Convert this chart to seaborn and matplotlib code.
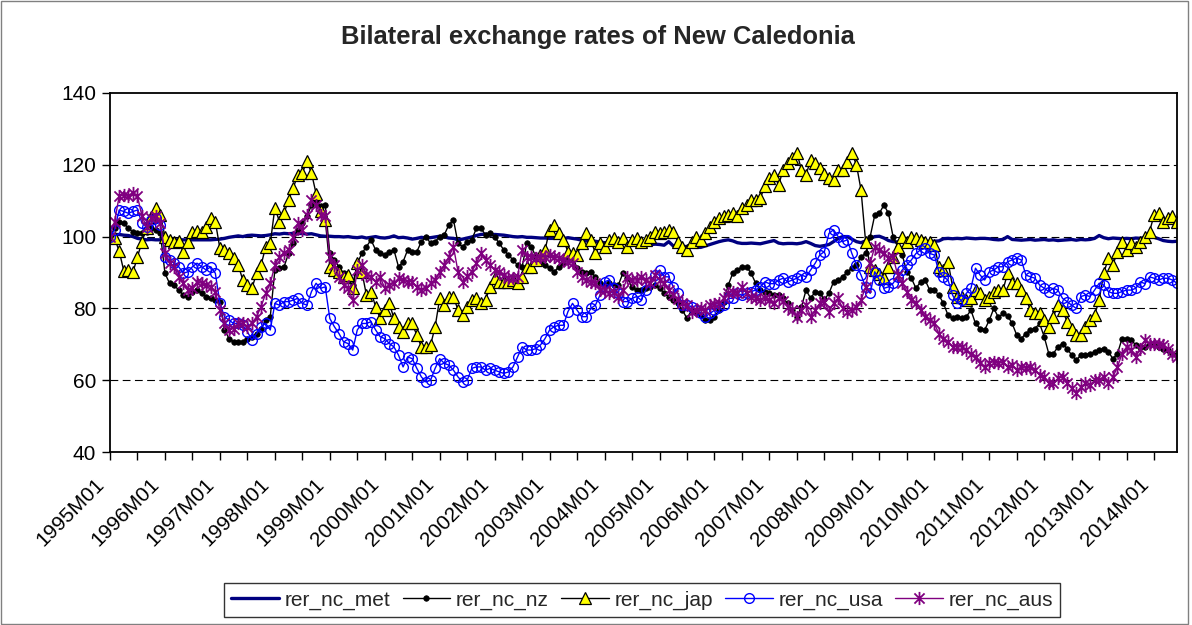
import numpy as np
import pandas as pd
import seaborn as sns
import matplotlib.pyplot as plt
import matplotlib.transforms as mtransforms
from matplotlib.path import Path
from matplotlib.patches import Rectangle

# monthly categories 1995M01 .. 2014M06
months = [f"{y}M{m:02d}" for y in range(1995, 2015) for m in range(1, 13)][:234]

met = [
    100.0, 100.5, 100.6, 100.4, 100.3, 100.0, 99.5, 99.3, 99.1, 99.2, 99.1, 99.1,  # 1995
    99.2, 99.2, 99.1, 99.1, 99.1, 99.1, 99.1, 99.1, 99.1, 99.1, 99.1, 99.2,  # 1996
    99.3, 99.5, 99.8, 100.0, 100.2, 100.0, 100.3, 100.4, 100.3, 100.2, 100.3, 100.5,  # 1997
    100.8, 100.7, 100.9, 100.8, 100.9, 100.8, 100.9, 100.7, 100.8, 100.5, 100.2, 100.1,  # 1998
    100.1, 100.0, 100.0, 99.9, 100.0, 99.8, 99.7, 99.9, 99.6, 99.8, 100.0, 99.7,  # 1999
    99.6, 99.8, 100.2, 99.7, 99.8, 99.6, 99.3, 99.5, 99.8, 99.6, 99.7, 99.9,  # 2000
    100.1, 99.9, 99.6, 99.5, 99.1, 99.3, 99.6, 99.9, 100.3, 100.6, 100.7, 100.4,  # 2001
    100.6, 100.5, 100.4, 100.2, 100.0, 99.9, 100.0, 99.8, 99.8, 99.7, 99.6, 99.6,  # 2002
    99.5, 99.5, 99.6, 99.4, 99.7, 99.5, 99.3, 99.0, 98.8, 98.6, 98.7, 98.5,  # 2003
    98.3, 98.2, 98.3, 98.2, 98.3, 98.2, 98.0, 97.9, 98.0, 97.8, 97.7, 97.9,  # 2004
    97.8, 97.6, 98.6, 97.4, 97.3, 97.3, 97.2, 97.3, 97.0, 97.0, 97.4, 97.8,  # 2005
    98.2, 98.6, 98.9, 99.1, 98.8, 98.3, 98.1, 98.1, 98.2, 98.1, 98.0, 98.3,  # 2006
    98.6, 98.9, 98.2, 98.0, 98.1, 98.1, 98.0, 98.2, 98.6, 98.1, 97.5, 97.3,  # 2007
    97.5, 97.8, 98.6, 99.5, 100.0, 100.0, 99.3, 98.6, 98.3, 98.8, 99.5, 100.0,  # 2008
    100.1, 99.6, 98.9, 98.6, 98.5, 98.6, 98.5, 98.7, 98.6, 98.5, 98.7, 98.6,  # 2009
    98.7, 98.8, 99.4, 99.5, 99.4, 99.5, 99.4, 99.6, 99.5, 99.4, 99.5, 99.5,  # 2010
    99.4, 99.2, 99.1, 99.2, 100.0, 99.2, 99.1, 99.0, 99.1, 99.2, 99.0, 99.1,  # 2011
    99.2, 99.0, 99.1, 98.9, 99.0, 99.1, 99.2, 99.0, 99.2, 99.1, 99.2, 99.5,  # 2012
    100.3, 99.7, 99.4, 99.6, 99.5, 99.4, 99.5, 99.4, 99.6, 99.5, 99.8, 100.0,  # 2013
    99.8, 99.4, 98.9, 98.7, 98.6, 98.7,  # 2014
]

nz = [
    100.0, 102.3, 104.2, 103.7, 102.3, 101.4, 100.9, 100.9, 101.4, 102.3, 101.9, 100.9,
    89.8, 87.0, 86.5, 85.1, 83.7, 83.3, 84.7, 85.1, 84.2, 83.3, 82.8, 82.3,
    81.9, 74.0, 71.6, 70.7, 70.7, 70.7, 71.6, 72.1, 73.0, 74.4, 76.7, 77.7,
    90.7, 91.2, 91.6, 95.3, 98.1, 101.9, 103.7, 105.6, 108.8, 109.8, 108.4, 108.8,
    95.3, 93.5, 91.6, 89.8, 87.9, 86.5, 92.6, 95.3, 97.2, 99.1, 96.3, 95.3,
    94.9, 95.8, 96.3, 91.6, 93.0, 96.3, 95.8, 95.8, 98.6, 100.0, 98.1, 98.6,
    100.0, 100.5, 103.3, 104.7, 98.1, 97.2, 98.6, 99.1, 102.3, 102.3, 100.5, 100.9,
    100.0, 98.1, 96.3, 94.9, 93.5, 92.1, 91.6, 98.1, 97.2, 94.4, 93.0, 92.1,
    91.2, 90.2, 91.6, 92.6, 94.0, 94.4, 91.2, 90.2, 89.8, 90.2, 88.8, 87.0,
    86.5, 87.0, 86.5, 86.5, 89.8, 88.4, 86.0, 85.1, 85.1, 85.6, 86.0, 86.5,
    85.6, 84.2, 83.3, 82.3, 81.4, 79.5, 77.2, 79.5, 79.0, 78.1, 76.7, 76.7,
    77.7, 79.5, 81.9, 86.5, 89.8, 90.7, 91.6, 91.6, 89.8, 87.0, 85.1, 84.7,
    84.2, 83.7, 83.7, 82.8, 81.4, 79.5, 77.7, 80.5, 85.1, 82.8, 84.7, 84.2,
    82.5, 84.2, 87.4, 87.9, 88.8, 90.2, 91.2, 92.1, 94.4, 95.3, 100.0, 106.0,
    106.5, 108.8, 106.5, 100.0, 97.2, 94.9, 90.2, 88.4, 85.6, 87.4, 87.9, 85.1,
    85.1, 83.7, 81.4, 78.1, 77.2, 77.7, 77.2, 77.7, 79.5, 75.8, 74.4, 74.0,
    76.7, 80.0, 77.5, 78.6, 78.0, 75.8, 72.6, 71.6, 73.0, 74.0, 74.4, 75.8,
    72.1, 67.4, 67.4, 69.3, 70.2, 68.8, 67.0, 65.6, 67.0, 67.0, 67.4, 67.9,
    68.4, 68.8, 67.9, 66.0, 67.4, 71.6, 71.6, 71.2, 69.8, 69.3, 69.3, 70.2,
    70.2, 69.3, 68.8, 68.4, 67.4, 67.0,
]

jap = [
    100.0, 99.5, 96.0, 90.5, 90.7, 90.0, 94.4, 98.6, 102.5, 105.5, 108.0, 106.0,
    100.0, 99.0, 98.6, 98.8, 95.6, 98.6, 101.4, 101.5, 101.4, 102.8, 105.1, 104.2,
    96.7, 96.3, 95.3, 94.0, 92.1, 87.9, 86.5, 85.6, 89.8, 92.1, 97.2, 98.1,
    108.0, 104.2, 106.5, 110.2, 113.5, 117.2, 117.7, 121.0, 117.7, 112.0, 107.0, 104.7,
    91.6, 90.7, 90.2, 88.8, 89.3, 85.6, 92.6, 90.2, 83.7, 84.7, 80.5, 77.2,
    79.5, 81.4, 77.2, 74.9, 73.5, 75.8, 75.8, 72.5, 69.3, 69.3, 69.8, 74.9,
    82.8, 80.9, 83.3, 83.3, 79.5, 78.1, 80.5, 82.3, 82.8, 81.4, 82.3, 86.0,
    88.4, 87.4, 87.4, 87.4, 87.9, 87.0, 88.8, 91.6, 91.6, 93.5, 94.9, 96.3,
    101.9, 103.3, 101.0, 99.1, 95.8, 95.3, 94.9, 98.1, 101.0, 99.1, 95.3, 98.1,
    97.2, 99.1, 99.5, 98.6, 99.5, 97.2, 99.1, 99.5, 98.6, 99.1, 100.0, 101.4,
    100.9, 101.4, 101.9, 101.4, 98.6, 97.2, 96.3, 98.6, 100.0, 99.1, 101.0, 102.8,
    104.2, 105.1, 105.6, 106.0, 106.5, 105.6, 107.9, 108.8, 110.2, 110.2, 110.7, 114.0,
    116.3, 117.2, 114.4, 118.6, 120.5, 121.9, 123.3, 118.6, 117.2, 121.4, 120.5, 119.1,
    117.5, 116.2, 115.8, 118.6, 118.6, 120.9, 123.3, 120.0, 113.0, 98.6, 91.6, 90.7,
    89.5, 88.4, 91.5, 94.4, 97.2, 100.0, 98.6, 100.0, 99.5, 99.1, 98.6, 98.6,
    97.7, 91.6, 90.7, 93.0, 86.0, 83.3, 83.3, 82.3, 82.8, 85.1, 84.2, 82.3,
    83.3, 84.5, 85.1, 85.1, 89.8, 87.0, 87.0, 85.1, 82.8, 79.5, 78.6, 78.6,
    76.7, 74.9, 77.7, 80.9, 79.5, 76.3, 74.4, 72.6, 72.6, 74.9, 76.7, 78.1,
    82.3, 89.8, 93.9, 92.1, 95.8, 98.6, 96.3, 98.1, 97.2, 98.6, 100.0, 101.4,
    106.0, 106.5, 104.2, 105.1, 105.6, 104.2,
]

usa = [
    100.0, 101.9, 107.4, 107.0, 106.5, 107.0, 107.4, 103.7, 102.8, 104.7, 105.1, 103.3,
    94.4, 93.5, 92.6, 91.6, 89.8, 90.2, 91.6, 92.6, 91.6, 90.7, 91.6, 89.8,
    81.4, 77.7, 76.7, 75.8, 75.8, 75.3, 73.5, 71.2, 73.0, 74.9, 75.8, 74.0,
    81.4, 80.9, 81.9, 81.9, 82.3, 82.8, 81.4, 80.9, 84.7, 87.0, 85.6, 86.0,
    77.2, 74.9, 73.0, 70.7, 70.2, 68.4, 74.0, 75.8, 75.8, 76.3, 74.0, 72.1,
    71.6, 70.2, 69.3, 67.0, 63.7, 66.5, 66.0, 63.3, 60.9, 59.5, 60.0, 63.3,
    66.0, 64.7, 64.2, 62.8, 60.9, 59.5, 60.0, 63.3, 63.7, 63.7, 62.8, 63.3,
    62.8, 62.3, 61.9, 62.3, 63.7, 66.5, 69.3, 68.4, 68.4, 68.8, 69.8, 71.6,
    74.0, 74.9, 75.3, 75.3, 79.1, 81.4, 79.5, 77.7, 77.7, 80.0, 80.9, 83.7,
    87.4, 87.9, 85.6, 84.2, 81.9, 81.9, 82.8, 83.3, 82.3, 85.1, 87.4, 89.3,
    90.7, 88.8, 88.8, 86.0, 84.2, 80.9, 80.9, 80.5, 79.5, 78.6, 77.7, 78.6,
    79.5, 80.5, 80.9, 82.8, 82.8, 84.2, 83.7, 84.2, 84.7, 85.1, 86.0, 87.4,
    86.9, 86.9, 87.9, 88.4, 87.4, 87.9, 88.4, 89.3, 88.8, 90.7, 92.6, 94.9,
    95.8, 100.9, 101.9, 100.0, 98.6, 99.1, 95.3, 92.1, 89.3, 86.0, 84.2, 90.2,
    87.9, 85.6, 86.0, 87.0, 88.8, 90.7, 92.1, 93.5, 95.3, 96.3, 96.7, 95.3,
    94.9, 90.2, 88.8, 87.9, 83.7, 81.4, 82.3, 84.2, 85.6, 91.2, 89.3, 87.9,
    90.2, 90.7, 91.6, 91.6, 93.0, 93.5, 94.0, 93.5, 89.3, 88.8, 88.4, 86.5,
    85.6, 84.7, 85.6, 85.1, 82.8, 81.9, 80.9, 80.0, 83.3, 83.7, 83.3, 85.1,
    87.0, 86.5, 84.7, 84.2, 84.2, 84.7, 85.1, 85.1, 85.6, 87.4, 86.9, 88.8,
    88.4, 87.9, 88.4, 88.4, 87.9, 87.0,
]

aus = [
    100.0, 104.2, 111.2, 111.6, 111.2, 112.1, 111.2, 105.6, 102.8, 105.1, 105.6, 103.7,
    95.3, 92.6, 91.6, 88.8, 87.0, 85.1, 85.6, 87.4, 87.0, 86.5, 86.0, 84.7,
    79.5, 75.8, 74.0, 74.4, 75.8, 75.8, 74.9, 75.8, 77.7, 80.5, 84.2, 87.0,
    92.0, 94.4, 95.5, 96.3, 100.0, 103.7, 101.9, 106.0, 110.2, 108.8, 106.0, 105.6,
    94.4, 92.1, 88.8, 86.5, 85.6, 82.3, 90.7, 92.1, 89.3, 88.8, 87.4, 88.8,
    85.6, 86.5, 87.0, 88.4, 87.9, 87.4, 87.4, 86.0, 85.1, 85.6, 87.0, 87.9,
    90.2, 92.0, 94.4, 97.2, 90.2, 87.4, 89.0, 90.2, 92.6, 95.3, 93.5, 92.1,
    90.7, 90.2, 89.3, 88.5, 88.4, 88.8, 96.3, 94.4, 94.4, 94.0, 94.2, 94.4,
    94.9, 94.4, 94.0, 93.5, 93.0, 92.6, 90.2, 88.8, 87.9, 87.4, 87.0, 85.1,
    85.1, 84.2, 84.7, 83.3, 85.1, 88.8, 87.9, 87.9, 88.8, 88.0, 87.0, 89.3,
    87.9, 87.0, 85.1, 83.7, 82.5, 81.4, 80.9, 79.1, 79.5, 80.0, 79.5, 80.9,
    81.2, 81.4, 82.8, 84.2, 84.7, 84.2, 86.0, 84.2, 83.3, 82.8, 82.3, 82.8,
    82.3, 81.4, 82.8, 82.0, 80.5, 79.5, 77.7, 79.5, 80.9, 77.7, 79.5, 81.4,
    81.9, 79.1, 81.4, 82.8, 80.0, 79.1, 79.5, 80.5, 82.3, 86.0, 92.6, 97.2,
    96.3, 95.3, 94.0, 94.4, 89.3, 87.0, 84.7, 82.3, 81.4, 79.5, 77.7, 76.7,
    75.8, 73.0, 71.5, 70.7, 69.3, 69.3, 69.3, 68.4, 67.4, 66.5, 64.7, 63.7,
    64.7, 65.2, 64.7, 65.0, 63.7, 64.2, 62.8, 63.7, 63.3, 63.7, 62.8, 61.5,
    60.9, 59.1, 59.1, 60.5, 60.9, 59.1, 57.7, 56.3, 58.1, 59.1, 58.6, 60.0,
    60.0, 60.9, 59.1, 60.9, 63.7, 67.4, 69.3, 68.4, 66.5, 68.8, 71.2, 70.2,
    70.2, 70.2, 69.8, 68.8, 67.4, 66.5,
]

df = pd.DataFrame({
    "t": np.arange(len(months)),
    "rer_nc_met": met,
    "rer_nc_nz": nz,
    "rer_nc_jap": jap,
    "rer_nc_usa": usa,
    "rer_nc_aus": aus,
})

# excel-like "star" marker: an x with a vertical bar through it
star = Path([(-1, -1), (1, 1), (-1, 1), (1, -1), (0, -1.3), (0, 1.3)],
            [Path.MOVETO, Path.LINETO] * 3)

styles = {
    "rer_nc_met": dict(color="#000080", linewidth=2.4),
    "rer_nc_nz": dict(color="black", linewidth=1.0, marker="o", markersize=4,
                      markerfacecolor="black", markeredgecolor="black",
                      markeredgewidth=0.5),
    "rer_nc_jap": dict(color="black", linewidth=1.0, marker="^", markersize=8,
                       markerfacecolor="#ffff00", markeredgecolor="black",
                       markeredgewidth=0.9),
    "rer_nc_usa": dict(color="#0000ff", linewidth=1.0, marker="o", markersize=7,
                       markerfacecolor="none", markeredgecolor="#0000ff",
                       markeredgewidth=1.0),
    "rer_nc_aus": dict(color="#800080", linewidth=1.0, marker=star, markersize=9.5,
                       markerfacecolor="none", markeredgecolor="#800080",
                       markeredgewidth=1.3),
}

sns.set_theme(style="ticks")
plt.rcParams["font.family"] = ["Liberation Sans", "DejaVu Sans"]

fig = plt.figure(figsize=(11.92, 6.25), dpi=100)
ax = fig.add_axes([110 / 1192, 1 - 452 / 625, 1067 / 1192, 359 / 625])

for name, kw in styles.items():
    sns.lineplot(data=df, x="t", y=name, ax=ax, label=name, **kw)

ax.set_xlim(0, len(months) - 1)
ax.set_ylim(40, 140)
ax.set_yticks(range(40, 141, 20))
ax.set_xlabel("")
ax.set_ylabel("")

ticks = list(range(0, len(months), 6))
ax.set_xticks(ticks)
ax.set_xticklabels([months[i] if i % 12 == 0 else "" for i in ticks],
                   rotation=45, ha="right", va="center", rotation_mode="anchor")

ax.tick_params(axis="both", labelsize=15, length=6, width=1, color="black",
               labelcolor="black", direction="out")
ax.tick_params(axis="x", pad=15)
ax.tick_params(axis="y", pad=4)

# nudge the rotated month labels a little to the left, like excel does
shift = mtransforms.ScaledTranslation(-8.5 / 100, 0, fig.dpi_scale_trans)
for lab in ax.get_xticklabels():
    lab.set_transform(lab.get_transform() + shift)

for y in range(60, 121, 20):
    ax.axhline(y, color="black", linewidth=0.8, linestyle=(0, (7, 4)), zorder=0.5)

for sp in ax.spines.values():
    sp.set_visible(True)
    sp.set_color("black")
    sp.set_linewidth(1.3)

handles, labels = ax.get_legend_handles_labels()
leg = ax.legend(handles, labels, loc="center", bbox_to_anchor=(642 / 1192, 1 - 600 / 625),
                bbox_transform=fig.transFigure, ncol=5, fontsize=15, frameon=True,
                fancybox=False, edgecolor="black", handlelength=2.3,
                handletextpad=0.25, columnspacing=0.6, borderpad=0.35)
leg.get_frame().set_linewidth(1.0)

fig.text(0.502, 1 - 37 / 625, "Bilateral exchange rates of New Caledonia",
         ha="center", va="center", fontsize=18.4, fontweight="bold")

fig.patches.append(Rectangle((0.001, 0.002), 0.996, 0.996, transform=fig.transFigure,
                             fill=False, edgecolor="#808080", linewidth=1.0))

fig.savefig("out.png", dpi=100)
